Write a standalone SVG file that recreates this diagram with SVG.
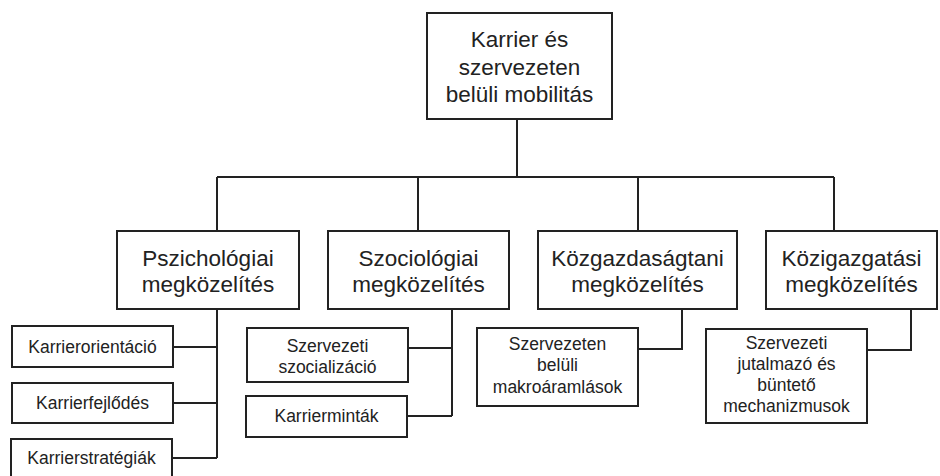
<svg xmlns="http://www.w3.org/2000/svg" width="940" height="476" viewBox="0 0 940 476">
<style>
.box{fill:#fff;stroke:#222;stroke-width:2}
.ln{fill:none;stroke:#222;stroke-width:2}
text{font-family:"Liberation Sans",Arial,sans-serif;fill:#222;text-anchor:middle}
.big{font-size:22.5px}
.sm{font-size:17.5px}
</style>
<rect width="940" height="476" fill="#fff"/>
<g id="connectors">
<path class="ln" d="M517,119V177M217,177H834M217,177V231M418,177V231M638,177V231M834,177V231"/>
<path class="ln" d="M217,309V458M173,347H217M173,403H217M172,458H217"/>
<path class="ln" d="M452,309V416M408,348H452M407,416H452"/>
<path class="ln" d="M682,309V349H638"/>
<path class="ln" d="M911,309V350H867"/>
</g>
<g id="root">
<rect class="box" x="427" y="13" width="185" height="106"/>
<text class="big" x="519.5" y="47">Karrier és</text>
<text class="big" x="519.5" y="75">szervezeten</text>
<text class="big" x="519.5" y="102">belüli mobilitás</text>
</g>
<g id="pszich">
<rect class="box" x="117" y="231" width="182" height="78"/>
<text class="big" x="208" y="266">Pszichológiai</text>
<text class="big" x="208" y="292">megközelítés</text>
</g>
<g id="szoc">
<rect class="box" x="328" y="231" width="181" height="78"/>
<text class="big" x="418.5" y="266">Szociológiai</text>
<text class="big" x="418.5" y="292">megközelítés</text>
</g>
<g id="kozgazd">
<rect class="box" x="538" y="231" width="199" height="78"/>
<text class="big" x="637.5" y="266">Közgazdaságtani</text>
<text class="big" x="637.5" y="292">megközelítés</text>
</g>
<g id="kozig">
<rect class="box" x="766" y="231" width="171" height="78"/>
<text class="big" x="851.5" y="266">Közigazgatási</text>
<text class="big" x="851.5" y="292">megközelítés</text>
</g>
<g id="karrierorientacio">
<rect class="box" x="12" y="326" width="161" height="41"/>
<text class="sm" x="92.5" y="353">Karrierorientáció</text>
</g>
<g id="karrierfejlodes">
<rect class="box" x="12" y="383" width="161" height="40"/>
<text class="sm" x="92.5" y="409">Karrierfejlődés</text>
</g>
<g id="karrierstrategiak">
<rect class="box" x="11" y="439" width="161" height="45"/>
<text class="sm" x="91.5" y="464">Karrierstratégiák</text>
</g>
<g id="szocializacio">
<rect class="box" x="247" y="328" width="161" height="54"/>
<text class="sm" x="327.5" y="352">Szervezeti</text>
<text class="sm" x="327.5" y="373">szocializáció</text>
</g>
<g id="karriermintak">
<rect class="box" x="246" y="396" width="161" height="41"/>
<text class="sm" x="326.5" y="422">Karrierminták</text>
</g>
<g id="makroaramlasok">
<rect class="box" x="477" y="328" width="161" height="78"/>
<text class="sm" x="557.5" y="350">Szervezeten</text>
<text class="sm" x="557.5" y="371">belüli</text>
<text class="sm" x="557.5" y="393">makroáramlások</text>
</g>
<g id="mechanizmusok">
<rect class="box" x="706" y="329" width="161" height="94"/>
<text class="sm" x="786.5" y="349">Szervezeti</text>
<text class="sm" x="786.5" y="370">jutalmazó és</text>
<text class="sm" x="786.5" y="391">büntető</text>
<text class="sm" x="786.5" y="412">mechanizmusok</text>
</g>
</svg>
